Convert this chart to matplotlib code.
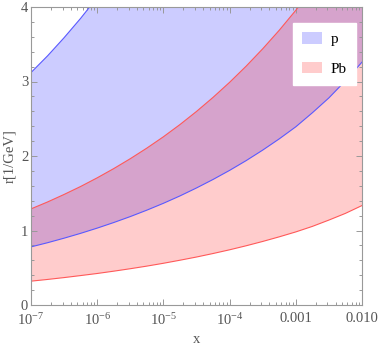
import numpy as np
import matplotlib
matplotlib.use("Agg")
import matplotlib.pyplot as plt
from matplotlib.patches import Patch
from matplotlib.ticker import FixedLocator, FixedFormatter, MultipleLocator

plt.rcParams['font.family'] = ['Liberation Serif', 'DejaVu Serif']
plt.rcParams['mathtext.fontset'] = 'custom'
plt.rcParams['mathtext.rm'] = 'Liberation Serif'
plt.rcParams['mathtext.it'] = 'Liberation Serif:italic'

log_x = [-7.0, -6.75, -6.5, -6.25, -6.0, -5.75, -5.5, -5.25, -5.0, -4.75, -4.5,
         -4.25, -4.0, -3.75, -3.5, -3.25, -3.0, -2.75, -2.5, -2.25, -2.0]
p_low = [0.78, 0.836, 0.897, 0.962, 1.032, 1.107, 1.187, 1.273, 1.365, 1.464, 1.571,
         1.685, 1.807, 1.938, 2.079, 2.230, 2.392, 2.58, 2.78, 3.01, 3.26]
p_high = [3.12, 3.344, 3.588, 3.848, 4.128, 4.43, 4.75, 5.09, 5.46, 5.86, 6.28,
          6.74, 7.23, 7.75, 8.32, 8.92, 9.57, 10.26, 11.01, 11.81, 12.66]
pb_low = [0.32, 0.343, 0.368, 0.395, 0.423, 0.454, 0.487, 0.522, 0.560, 0.601, 0.644,
          0.691, 0.741, 0.795, 0.853, 0.915, 0.981, 1.055, 1.14, 1.23, 1.335]
pb_high = [1.29, 1.383, 1.484, 1.591, 1.707, 1.831, 1.964, 2.106, 2.258, 2.422, 2.598,
           2.787, 2.989, 3.206, 3.439, 3.688, 3.956, 4.24, 4.55, 4.88, 5.24]

xtick_vals = [1e-7, 1e-6, 1e-5, 1e-4, 1e-3, 1e-2]
xtick_labels = [r'$\mathregular{10^{-7}}$', r'$\mathregular{10^{-6}}$',
                r'$\mathregular{10^{-5}}$', r'$\mathregular{10^{-4}}$',
                '0.001', '0.010']

x = np.power(10.0, log_x)

fig = plt.figure(figsize=(3.8, 3.48), dpi=100)
ax = fig.add_axes([31/380, 43/348, 331/380, 298/348])

ax.fill_between(x, p_low, p_high, color=(0, 0, 1), alpha=0.2, lw=0)
ax.fill_between(x, pb_low, pb_high, color=(1, 0, 0), alpha=0.2, lw=0)
blue_line = (0.35, 0.35, 1.0)
red_line = (1.0, 0.35, 0.35)
ax.plot(x, p_low, color=blue_line, lw=0.8)
ax.plot(x, p_high, color=blue_line, lw=0.8)
ax.plot(x, pb_low, color=red_line, lw=0.8)
ax.plot(x, pb_high, color=red_line, lw=0.8)

ax.set_xscale('log')
ax.set_xlim(1e-7, 1e-2)
ax.set_ylim(0, 4)

ax.xaxis.set_major_locator(FixedLocator(xtick_vals))
ax.xaxis.set_major_formatter(FixedFormatter(xtick_labels))
minors = [m * 10.0**e for e in range(-7, -2) for m in range(2, 10)]
ax.xaxis.set_minor_locator(FixedLocator(minors))
ax.xaxis.set_minor_formatter(FixedFormatter([''] * len(minors)))
ax.yaxis.set_major_locator(MultipleLocator(1))
ax.yaxis.set_minor_locator(MultipleLocator(0.2))

gray = '#999999'
for s in ax.spines.values():
    s.set_color(gray)
    s.set_linewidth(0.8)
ax.tick_params(which='both', direction='in', top=True, right=True,
               color=gray, labelcolor='#555555', labelsize=10.5, width=0.7)
ax.tick_params(which='major', length=4, pad=2)
ax.tick_params(which='minor', length=2)
ax.tick_params(axis='x', which='major', pad=5)

ax.set_xlabel('x', color='#555555', fontsize=10.5, labelpad=4)
ax.set_ylabel('r[1/GeV]', color='#555555', fontsize=10.5, labelpad=3)

handles = [Patch(facecolor='#ccccff', edgecolor='none', label='p'),
           Patch(facecolor='#ffcccc', edgecolor='none', label='Pb')]
leg = ax.legend(handles=handles, loc='upper right', bbox_to_anchor=(0.982, 0.946),
                frameon=True, fancybox=False, framealpha=1, edgecolor='white',
                fontsize=11, handlelength=1.3, handleheight=0.8,
                handletextpad=0.6, labelspacing=1.0, borderpad=0.6,
                borderaxespad=0)

fig.savefig('out.png', dpi=100)
